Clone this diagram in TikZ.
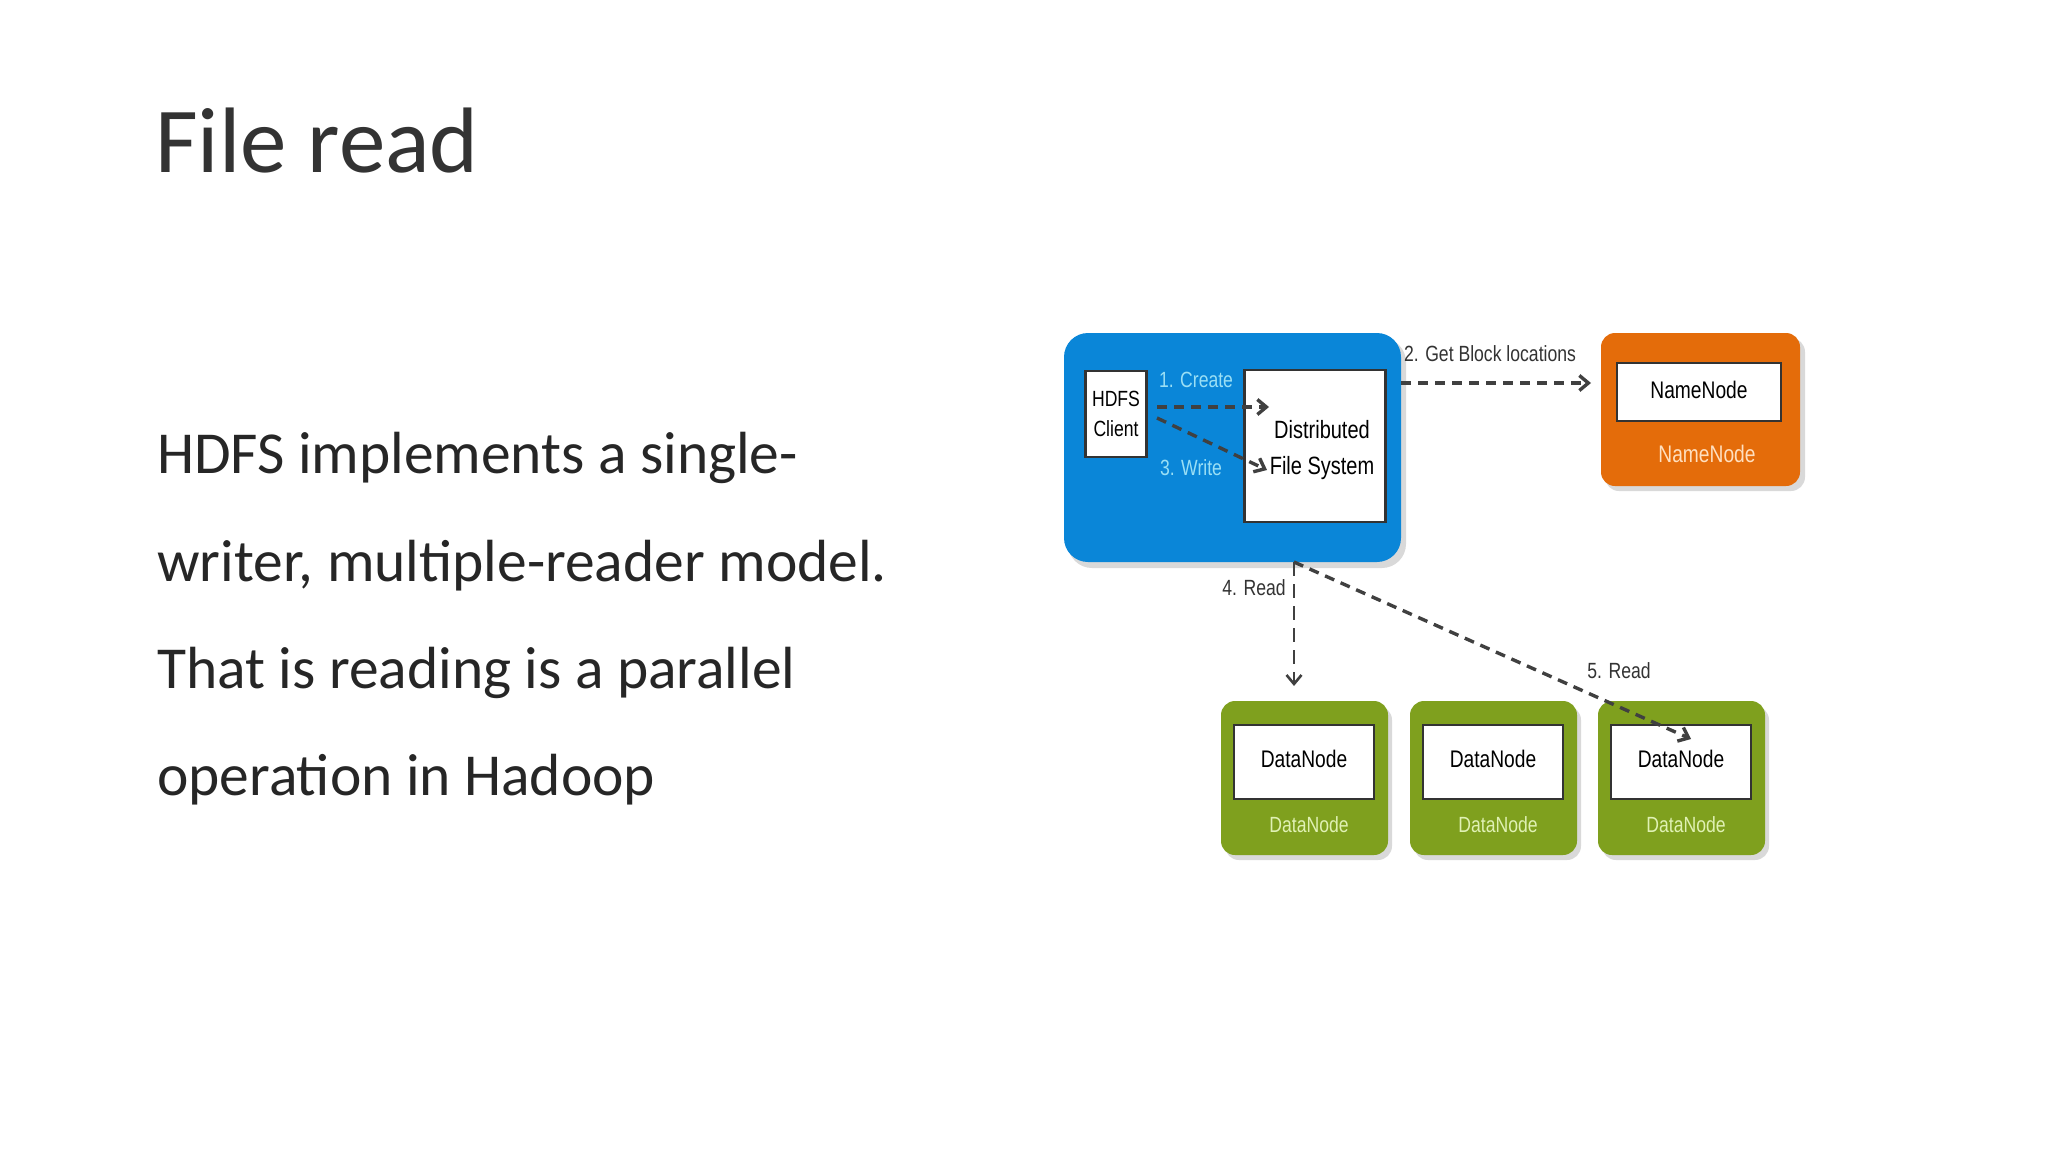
\documentclass[tikz,border=0pt]{standalone}
\usepackage{fontspec}
\setmainfont{Carlito}
\newfontfamily\dia{Liberation Sans}
\usetikzlibrary{arrows.meta}
\definecolor{hblue}{HTML}{0A86D8}
\definecolor{horange}{HTML}{E46C0A}
\definecolor{hgreen}{HTML}{7FA01E}
\definecolor{lbl}{HTML}{9ADFF5}
\begin{document}
\begin{tikzpicture}[x=1pt,y=-1pt,
  txt/.style={inner sep=0,anchor=base west,font=\fontsize{59.5}{64}\selectfont,text=black!85},
  dt/.style={inner sep=0,font=\dia\fontsize{22}{24}\selectfont,xscale=0.8},
  wbox/.style={draw=black!80,line width=2.5pt,fill=white},
  conn/.style={line width=3.4pt,dash pattern=on 10pt off 7pt,draw=black!75,-{Straight Barb[length=9pt,width=15pt]}}]
\useasboundingbox (0,0) rectangle (2048,1152);
\node[inner sep=0,anchor=base west,font=\fontsize{93}{100}\selectfont,text=black!80] (title) at (155,172) {File read};
\node[txt] (l1) at (157,473) {HDFS implements a single-};
\node[txt] (l2) at (157,581) {writer, multiple-reader model.};
\node[txt] (l3) at (157,688) {That is reading is a parallel};
\node[txt] (l4) at (157,795) {operation in Hadoop};
% blue
\fill[black!15,rounded corners=24pt] (1068,338) rectangle (1406,568);
\fill[hblue,rounded corners=24pt] (1064,333) rectangle (1401,562);
\node[wbox,minimum width=76pt,minimum height=86pt,dt,font=\dia\fontsize{22}{30}\selectfont,align=center] (client) at (1116,414) {HDFS\\Client};
\node[wbox,minimum width=141pt,minimum height=152pt] (dfs) at (1315,446) {};
\node[dt,align=center,font=\dia\fontsize{25}{36}\selectfont] (dfst) at (1322,450) {Distributed\\File System};
% orange
\fill[black!15,rounded corners=14pt] (1605,338) rectangle (1805,491);
\fill[horange,rounded corners=14pt] (1601,333) rectangle (1800,486);
\node[wbox,minimum width=164pt,minimum height=58pt] (nn) at (1699,392) {};
\node[dt,font=\dia\fontsize{24}{26}\selectfont] (nnt) at (1699,390) {NameNode};
\node[dt,text=orange!25,font=\dia\fontsize{24}{26}\selectfont] (nnl) at (1707,454) {NameNode};
% green
\foreach \i/\x in {1/1221,2/1410,3/1598}{
  \fill[black!15,rounded corners=14pt] (\x+4,706) rectangle (\x+171,860);
  \fill[hgreen,rounded corners=14pt] (\x,701) rectangle (\x+167,855);
  \node[wbox,minimum width=140pt,minimum height=74pt] (dn\i) at (\x+83,762) {};
  \node[dt,font=\dia\fontsize{24}{26}\selectfont] (dnt\i) at (\x+83,759) {DataNode};
  \node[dt,text=yellow!60!green!30,font=\dia\fontsize{22}{24}\selectfont] (dnl\i) at (\x+88,825) {DataNode};
}
\coordinate (c1a) at (1157,407); \coordinate (c1b) at (1269,407);
\coordinate (c3a) at (1157,418); \coordinate (c3b) at (1267,470);
\coordinate (c2a) at (1401,383); \coordinate (c2b) at (1591,383);
\coordinate (c4a) at (1294,562); \coordinate (c4b) at (1294,686);
\coordinate (c5b) at (1691,739);
\draw[conn] (c1a) -- (c1b);
\draw[conn] (c3a) -- (c3b);
\draw[conn] (c2a) -- (c2b);
\draw[conn,line width=2.6pt,dash pattern=on 14pt off 8pt] (c4a) -- (c4b);
\draw[conn] (c4a) -- (c5b);
\node[dt,text=lbl] (lc) at (1196,380) {1. Create};
\node[dt,text=lbl] (lw) at (1191,468) {3. Write};
\node[dt,text=black!80] (lg) at (1490,354) {2. Get Block locations};
\node[dt,text=black!80] (l4r) at (1254,588) {4. Read};
\node[dt,text=black!80] (l5r) at (1619,671) {5. Read};
\end{tikzpicture}
\end{document}
